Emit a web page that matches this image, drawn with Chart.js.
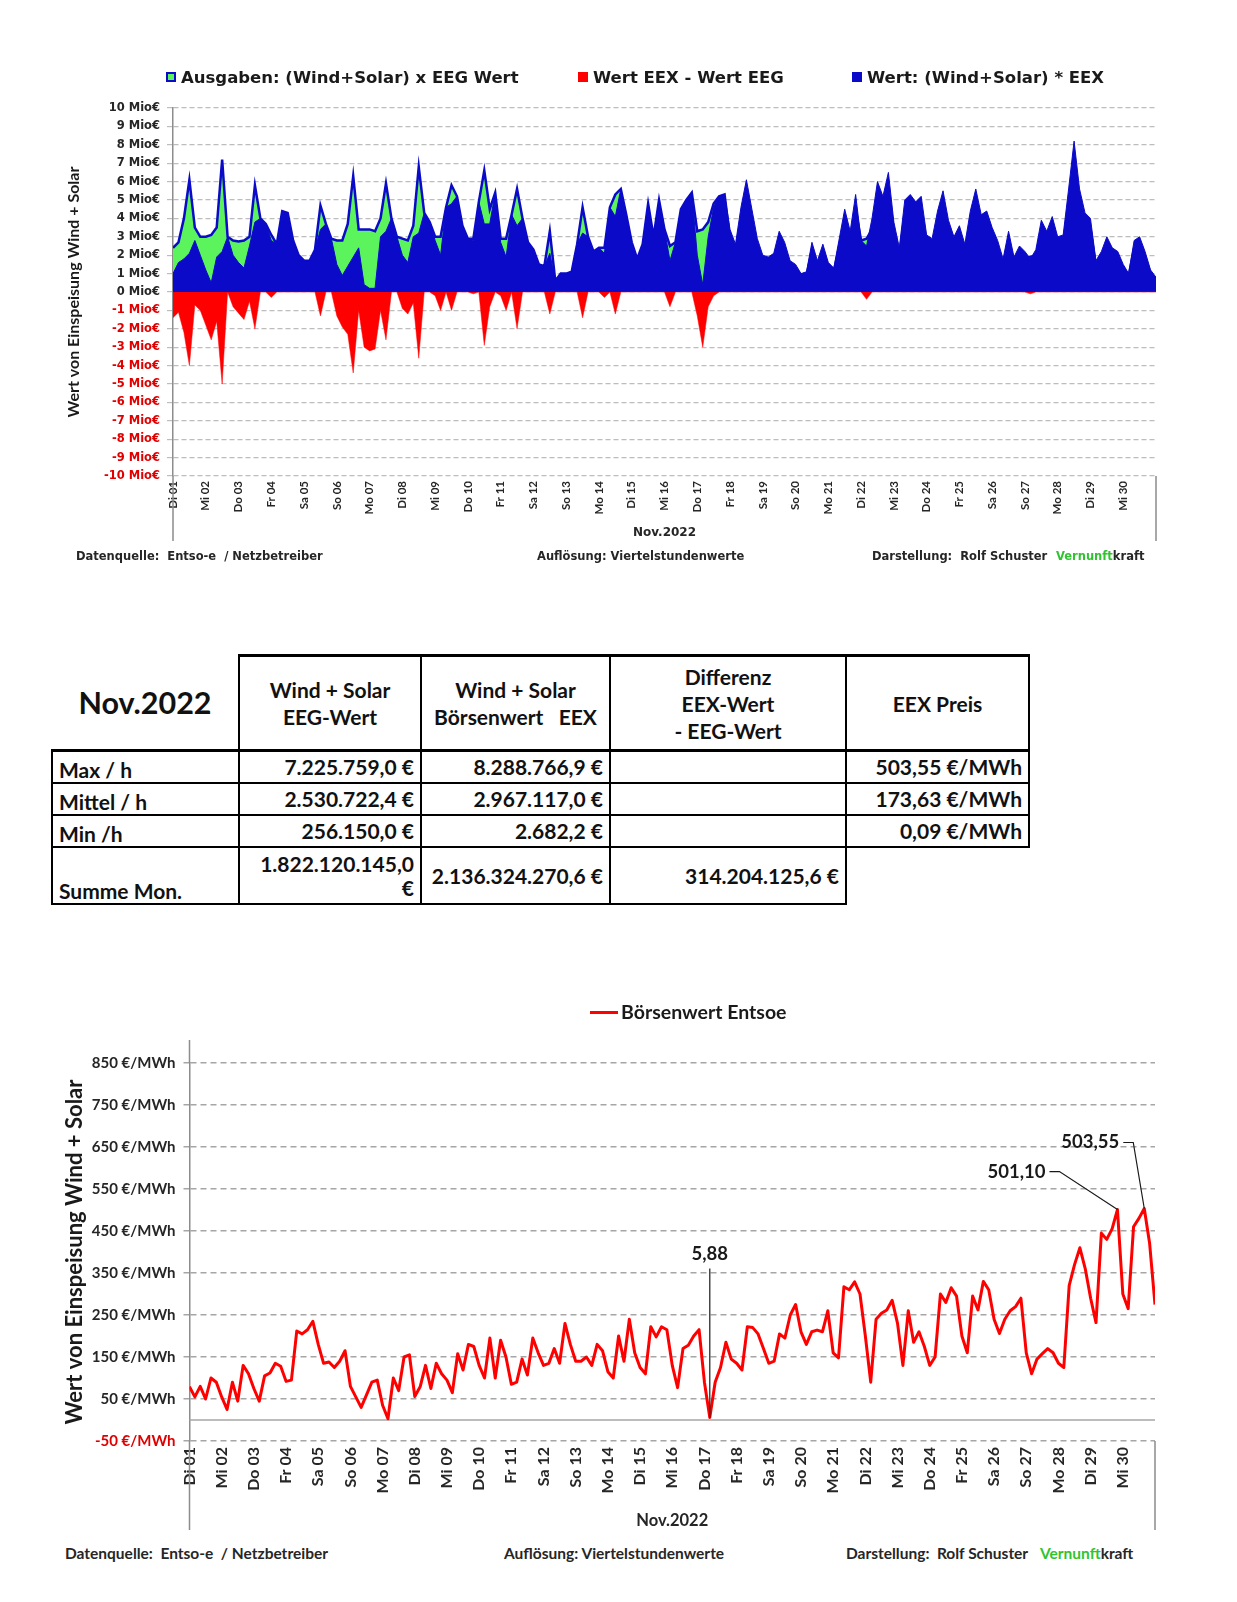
<!DOCTYPE html>
<html lang="de">
<head>
<meta charset="UTF-8">
<title>Wind + Solar Nov.2022</title>
<script src="https://cdn.jsdelivr.net/npm/chart.js"></script>
<style type="text/css">
    body { margin: 0; background: #fff; }
    .page { position: relative; width: 1237px; height: 1602px; overflow: hidden; }
    .chartbox { position: absolute; }
    .leg {
        position: absolute; z-index: 2; height: 20px;
        display: flex; align-items: center;
        font: bold 16.5px "DejaVu Sans"; color: #1a1a1a; white-space: pre;
    }
    .sw { display: inline-block; width: 10px; height: 10px; margin-right: 5px; box-sizing: border-box; }
    .foot1 { position: absolute; z-index: 2; font: bold 11.5px "DejaVu Sans"; color: #262626; white-space: pre; line-height: 14px; }
    .foot2 { position: absolute; z-index: 2; font: bold 15.5px Lato; color: #262626; white-space: pre; line-height: 18px; }
    .green { color: #2fc42f; }

    table.stats {
        position: absolute; left: 51px; top: 654px;
        border-collapse: collapse; table-layout: fixed; width: 977px;
        font-family: Lato; font-weight: bold; color: #111;
    }
    table.stats th, table.stats td { border: 2px solid #000; padding: 0 6px; }
    table.stats th { height: 92px; font-size: 21px; line-height: 27px; text-align: center; border-top-width: 3px; border-bottom-width: 3px; }
    table.stats th.corner { border-top: none; border-left: none; font-size: 30.5px; }
    table.stats td { height: 30px; font-size: 21px; text-align: right; vertical-align: middle; line-height: 24px; }
    table.stats td.lab { text-align: left; vertical-align: bottom; }
    table.stats tr.sum td { height: 55px; }
    table.stats td.none { border: none; }
</style>
</head>

<body>
<div class="page">
    <!-- top chart legend -->
    <div class="leg" style="left:166px;top:67px;"><span class="sw" style="background:#5cf45c;border:2px solid #0a0ac8;"></span>Ausgaben: (Wind+Solar) x EEG Wert</div>
    <div class="leg" style="left:578px;top:67px;"><span class="sw" style="background:#ff0000;"></span>Wert EEX - Wert EEG</div>
    <div class="leg" style="left:852px;top:67px;"><span class="sw" style="background:#0a0ac8;"></span>Wert: (Wind+Solar) * EEX</div>

    <div class="chartbox" style="left:0;top:0;width:1237px;height:556px;"><canvas id="topChart"></canvas></div>

    <div class="foot1" style="left:76px;top:549px;">Datenquelle:  Entso-e  / Netzbetreiber</div>
    <div class="foot1" style="left:537px;top:549px;">Auflösung: Viertelstundenwerte</div>
    <div class="foot1" style="left:872px;top:549px;">Darstellung:  Rolf Schuster</div>
    <div class="foot1" style="left:1056px;top:549px;"><span class="green">Vernunft</span>kraft</div>

    <table class="stats">
        <colgroup><col style="width:187px"><col style="width:182px"><col style="width:189px"><col style="width:236px"><col style="width:183px"></colgroup>
        <tr>
            <th class="corner">Nov.2022</th>
            <th>Wind + Solar<br>EEG-Wert</th>
            <th>Wind + Solar<br>Börsenwert&nbsp;&nbsp; EEX</th>
            <th>Differenz<br>EEX-Wert<br>- EEG-Wert</th>
            <th>EEX Preis</th>
        </tr>
        <tr><td class="lab">Max / h</td><td>7.225.759,0 €</td><td>8.288.766,9 €</td><td></td><td>503,55 €/MWh</td></tr>
        <tr><td class="lab">Mittel / h</td><td>2.530.722,4 €</td><td>2.967.117,0 €</td><td></td><td>173,63 €/MWh</td></tr>
        <tr><td class="lab">Min /h</td><td>256.150,0 €</td><td>2.682,2 €</td><td></td><td>0,09 €/MWh</td></tr>
        <tr class="sum"><td class="lab">Summe Mon.</td><td>1.822.120.145,0<br>€</td><td>2.136.324.270,6 €</td><td>314.204.125,6 €</td><td class="none"></td></tr>
    </table>

    <!-- bottom chart legend -->
    <div style="position:absolute;left:590px;top:1011px;width:28px;height:3px;background:#ff0000;z-index:2"></div>
    <div style="position:absolute;left:621px;top:1000px;font:bold 19.5px Lato;line-height:24px;color:#1a1a1a;z-index:2">Börsenwert Entsoe</div>

    <div class="chartbox" style="left:0;top:1000px;width:1237px;height:540px;"><canvas id="bottomChart"></canvas></div>

    <div class="foot2" style="left:65px;top:1544px;">Datenquelle:  Entso-e  / Netzbetreiber</div>
    <div class="foot2" style="left:504px;top:1544px;">Auflösung: Viertelstundenwerte</div>
    <div class="foot2" style="left:846px;top:1544px;">Darstellung:  Rolf Schuster</div>
    <div class="foot2" style="left:1040px;top:1544px;"><span class="green">Vernunft</span>kraft</div>
</div>

<script>
    // x axis: one tick per day, values every 4 hours (6 per day), last value = end of month
    const dayLabels = ['Di 01', 'Mi 02', 'Do 03', 'Fr 04', 'Sa 05', 'So 06', 'Mo 07', 'Di 08', 'Mi 09', 'Do 10',
        'Fr 11', 'Sa 12', 'So 13', 'Mo 14', 'Di 15', 'Mi 16', 'Do 17', 'Fr 18', 'Sa 19', 'So 20',
        'Mo 21', 'Di 22', 'Mi 23', 'Do 24', 'Fr 25', 'Sa 26', 'So 27', 'Mo 28', 'Di 29', 'Mi 30'];
    const stepsPerDay = 6;

    const mioTicks = [-10, -9, -8, -7, -6, -5, -4, -3, -2, -1, 0, 1, 2, 3, 4, 5, 6, 7, 8, 9, 10];
    const preisTicks = [-50, 50, 150, 250, 350, 450, 550, 650, 750, 850];

    // (Wind+Solar) x EEG Wert, Mio €
    const eegWert = [
        2.4, 2.7, 4.0, 6.1, 3.5, 3.0,
        3.0, 3.1, 3.5, 7.2, 3.0, 2.8,
        2.75, 2.8, 3.0, 5.8, 4.0, 3.7,
        3.1, 2.6, 4.4, 4.3, 2.8, 2.0,
        1.7, 1.7, 2.3, 4.7, 3.7, 2.9,
        2.8, 2.8, 3.7, 6.3, 3.4, 3.4,
        3.4, 3.3, 4.0, 5.9, 4.0, 3.0,
        2.9, 2.8, 3.6, 6.8, 4.3, 3.8,
        3.0, 3.0, 4.6, 5.8, 5.2, 3.6,
        2.9, 2.9, 4.9, 6.6, 4.5, 5.4,
        2.9, 2.9, 4.2, 5.6, 4.0, 2.7,
        2.3, 1.5, 1.4, 3.3, 0.6, 1.0,
        1.0, 1.1, 2.6, 4.6, 3.0, 2.2,
        2.4, 2.4, 4.6, 5.3, 5.6, 4.2,
        2.7, 1.8, 2.6, 4.8, 3.0, 5.0,
        3.4, 2.5, 2.7, 4.5, 5.0, 5.4,
        3.3, 3.4, 3.8, 4.8, 5.2, 5.3,
        2.9, 2.2, 3.9, 5.2, 3.8, 2.5,
        1.7, 1.6, 1.8, 2.8, 2.3, 1.4,
        1.3, 0.9, 0.9, 2.3, 1.4, 2.2,
        1.4, 1.1, 2.5, 3.8, 2.8, 4.5,
        2.8, 2.9, 3.4, 5.1, 4.4, 5.5,
        3.2, 2.0, 4.2, 4.5, 4.2, 4.4,
        2.6, 2.5, 3.7, 4.7, 3.3, 2.6,
        3.1, 2.2, 3.7, 4.8, 3.6, 3.7,
        3.0, 2.4, 1.5, 2.8, 1.6, 2.1,
        1.9, 1.9, 2.0, 3.3, 2.8, 3.5,
        2.6, 2.6, 4.8, 7.0, 4.8, 3.7,
        3.4, 1.4, 1.9, 2.6, 2.0, 1.9,
        1.3, 0.9, 2.4, 2.6, 1.9, 1.0,
        0.7
    ];

    // (Wind+Solar) * EEX, Mio €
    const eexWert = [
        1.0, 1.6, 1.8, 2.1, 2.8, 2.0,
        1.2, 0.5, 1.9, 2.2, 3.0, 2.0,
        1.6, 1.3, 2.5, 3.8, 4.0, 3.7,
        2.8, 2.6, 4.4, 4.3, 2.8, 2.0,
        1.7, 1.7, 2.3, 3.4, 3.7, 2.9,
        1.5, 0.9, 1.4, 1.9, 2.4, 0.4,
        0.2, 0.2, 3.0, 3.3, 4.0, 3.0,
        2.0, 1.6, 3.0, 3.2, 4.3, 3.8,
        2.8, 2.0, 4.6, 4.8, 5.2, 3.6,
        2.9, 2.8, 4.9, 3.7, 3.7, 5.4,
        2.7, 1.9, 4.2, 3.6, 4.0, 2.7,
        2.3, 1.5, 1.4, 2.1, 0.6, 1.0,
        1.0, 1.1, 2.6, 3.2, 3.0, 2.2,
        2.4, 2.1, 4.6, 4.1, 5.6, 4.2,
        2.7, 1.8, 2.6, 4.8, 3.0, 5.0,
        3.4, 1.7, 2.7, 4.5, 5.0, 5.4,
        2.0, 0.4, 3.0, 4.6, 5.2, 5.3,
        3.4, 2.6, 4.6, 6.1, 4.5, 2.9,
        2.0, 1.9, 2.1, 3.3, 2.7, 1.7,
        1.5, 1.0, 1.1, 2.7, 1.7, 2.6,
        1.6, 1.3, 2.9, 4.5, 3.3, 5.3,
        2.8, 2.5, 4.0, 6.0, 5.2, 6.5,
        3.8, 2.4, 5.0, 5.3, 4.9, 5.2,
        3.1, 2.9, 4.4, 5.5, 3.9, 3.0,
        3.6, 2.6, 4.4, 5.6, 4.2, 4.4,
        3.5, 2.8, 1.8, 3.3, 1.9, 2.5,
        2.2, 1.8, 2.3, 3.9, 3.3, 4.1,
        3.0, 3.1, 5.6, 8.2, 5.6, 4.3,
        4.0, 1.7, 2.2, 3.0, 2.4, 2.2,
        1.5, 1.0, 2.8, 3.0, 2.2, 1.2,
        0.8
    ];

    // Wert EEX - Wert EEG (only the negative part is shown), Mio €
    const diffWert = [
        -1.4, -1.1, -2.2, -4.0, -0.7, -1.0,
        -1.8, -2.6, -1.6, -5.0, 0, -0.8,
        -1.15, -1.5, -0.5, -2.0, 0, 0,
        -0.3, 0, 0, 0, 0, 0,
        0, 0, 0, -1.3, 0, 0,
        -1.3, -1.9, -2.3, -4.4, -1.0, -3.0,
        -3.2, -3.1, -1.0, -2.6, 0, 0,
        -0.9, -1.2, -0.6, -3.6, 0, 0,
        -0.2, -1.0, 0, -1.0, 0, 0,
        0, -0.1, 0, -2.9, -0.8, 0,
        -0.2, -1.0, 0, -2.0, 0, 0,
        0, 0, 0, -1.2, 0, 0,
        0, 0, 0, -1.4, 0, 0,
        0, -0.3, 0, -1.2, 0, 0,
        0, 0, 0, 0, 0, 0,
        0, -0.8, 0, 0, 0, 0,
        -1.3, -3.0, -0.8, -0.2, 0, 0,
        0, 0, 0, 0, 0, 0,
        0, 0, 0, 0, 0, 0,
        0, 0, 0, 0, 0, 0,
        0, 0, 0, 0, 0, 0,
        0, -0.4, 0, 0, 0, 0,
        0, 0, 0, 0, 0, 0,
        0, 0, 0, 0, 0, 0,
        0, 0, 0, 0, 0, 0,
        0, 0, 0, 0, 0, 0,
        0, -0.1, 0, 0, 0, 0,
        0, 0, 0, 0, 0, 0,
        0, 0, 0, 0, 0, 0,
        0, 0, 0, 0, 0, 0,
        0
    ];

    // Börsenwert Entsoe, €/MWh
    const boersenPreis = [
        79, 55, 80, 50, 100, 90,
        55, 25, 90, 45, 130, 110,
        75, 45, 105, 112, 135, 128,
        92, 95, 212, 205, 215, 235,
        180, 135, 138, 125, 140, 165,
        80, 55, 30, 60, 90, 95,
        35, 3, 100, 70, 150, 155,
        56, 79, 130, 75, 135, 110,
        95, 65, 158, 119, 180, 175,
        130, 100, 195, 100, 190, 150,
        85, 90, 145, 107, 195, 160,
        130, 135, 170, 135, 230, 180,
        140, 140, 150, 130, 180, 165,
        115, 100, 200, 140, 240, 160,
        125, 110, 222, 198, 222, 215,
        130, 77, 170, 178, 200, 215,
        90, 5.88, 90, 125, 185, 145,
        135, 119, 222, 220, 205, 170,
        135, 140, 205, 195, 250, 275,
        210, 180, 210, 214, 210, 260,
        160, 148, 317, 310, 329, 300,
        200, 90, 240, 254, 262, 285,
        230, 130, 260, 185, 210, 175,
        130, 150, 300, 280, 315, 295,
        200, 160, 295, 262, 330, 310,
        240, 206, 240, 260, 270, 290,
        160, 110, 145, 158, 170, 160,
        135, 125, 320, 370, 410, 360,
        290, 232, 445, 430, 455, 501.1,
        300, 265, 460, 480, 503.55, 420,
        275
    ];

    // labelled points of the price line (index into boersenPreis)
    const callouts = [
        { index: 97, text: '5,88' },
        { index: 173, text: '501,10' },
        { index: 178, text: '503,55' }
    ];
    // where each label sits relative to its point, px
    const calloutOffsets = [
        { dx: 0, dy: -163, vertical: true },
        { dx: -68, dy: -38 },
        { dx: -21, dy: -66 }
    ];

    const hours = boersenPreis.map((_, i) => i / stepsPerDay);
    function pts(values) {
        return values.map((v, i) => ({ x: hours[i], y: v }));
    }

    const RED = '#ff0000';
    const BLUE = '#0a0ac8';
    const GREEN = '#5cf45c';

    // draws the axis lines a bit past the plot area, like the original
    const axisExtend = {
        id: 'axisExtend',
        afterDraw(chart, args, opts) {
            const { ctx, chartArea } = chart;
            ctx.save();
            ctx.strokeStyle = '#8c8c8c';
            ctx.lineWidth = 1.5;
            ctx.beginPath();
            ctx.moveTo(chartArea.left, chartArea.top - opts.up);
            ctx.lineTo(chartArea.left, chartArea.top);
            ctx.moveTo(chartArea.left, chartArea.bottom);
            ctx.lineTo(chartArea.left, chartArea.bottom + opts.down);
            ctx.moveTo(chartArea.right, chartArea.bottom);
            ctx.lineTo(chartArea.right, chartArea.bottom + opts.down);
            ctx.stroke();
            ctx.restore();
        }
    };

    const zeroLine = {
        id: 'zeroLine',
        beforeDatasetsDraw(chart) {
            const { ctx, chartArea, scales: { y } } = chart;
            const y0 = y.getPixelForValue(0);
            ctx.save();
            ctx.strokeStyle = '#a6a6a6';
            ctx.lineWidth = 1.5;
            ctx.beginPath();
            ctx.moveTo(chartArea.left, y0);
            ctx.lineTo(chartArea.right, y0);
            ctx.stroke();
            ctx.restore();
        }
    };

    const calloutPlugin = {
        id: 'callouts',
        afterDatasetsDraw(chart) {
            const { ctx, scales: { x, y } } = chart;
            ctx.save();
            ctx.font = 'bold 18.5px Lato';
            ctx.fillStyle = '#1a1a1a';
            ctx.strokeStyle = '#1a1a1a';
            ctx.lineWidth = 1.2;
            callouts.forEach((c, k) => {
                const px = x.getPixelForValue(hours[c.index]);
                const py = y.getPixelForValue(boersenPreis[c.index]);
                const o = calloutOffsets[k];
                ctx.beginPath();
                if (o.vertical) {
                    ctx.moveTo(px, py);
                    ctx.lineTo(px, py + o.dy + 14);
                    ctx.textAlign = 'center';
                    ctx.textBaseline = 'middle';
                    ctx.fillText(c.text, px, py + o.dy);
                } else {
                    const ex = px + o.dx, ey = py + o.dy;
                    ctx.moveTo(px, py);
                    ctx.lineTo(ex + 10, ey);
                    ctx.lineTo(ex, ey);
                    ctx.textAlign = 'right';
                    ctx.textBaseline = 'middle';
                    ctx.fillText(c.text, ex - 4, ey);
                }
                ctx.stroke();
            });
            ctx.restore();
        }
    };

    function dayAxis(fontSize, height, titleFont, titlePad, tickPad) {
        return {
            type: 'linear',
            min: 0,
            max: dayLabels.length,
            afterBuildTicks: s => { s.ticks = dayLabels.map((_, i) => ({ value: i })); },
            afterFit: s => { s.height = height; },
            grid: { display: false, drawTicks: false },
            border: { display: false },
            ticks: {
                autoSkip: false, minRotation: 90, maxRotation: 90, padding: tickPad,
                font: { family: 'Lato', weight: 'bold', size: fontSize },
                color: '#262626',
                callback: v => dayLabels[v]
            },
            title: {
                display: true, text: 'Nov.2022', color: '#262626',
                font: titleFont, padding: { top: 0, bottom: titlePad }
            }
        };
    }

    // top chart: values of wind + solar feed-in
    new Chart(document.getElementById('topChart'), {
        type: 'line',
        data: {
            datasets: [
                {
                    label: 'Ausgaben: (Wind+Solar) x EEG Wert',
                    data: pts(eegWert),
                    backgroundColor: GREEN, borderColor: BLUE, borderWidth: 2.5,
                    fill: 'origin', pointRadius: 0, order: 3
                },
                {
                    label: 'Wert EEX - Wert EEG',
                    data: pts(diffWert),
                    backgroundColor: RED, borderColor: RED, borderWidth: 0.5,
                    fill: 'origin', pointRadius: 0, order: 1
                },
                {
                    label: 'Wert: (Wind+Solar) * EEX',
                    data: pts(eexWert),
                    backgroundColor: BLUE, borderColor: BLUE, borderWidth: 1,
                    fill: 'origin', pointRadius: 0, order: 2
                }
            ]
        },
        options: {
            responsive: true,
            maintainAspectRatio: false,
            animation: false,
            layout: { padding: { left: 60, right: 81, top: 108, bottom: 0 } },
            elements: { line: { tension: 0 } },
            plugins: {
                legend: { display: false },
                tooltip: { enabled: false },
                axisExtend: { up: 0, down: 65 }
            },
            scales: {
                x: dayAxis(11.5, 80, { family: 'DejaVu Sans', weight: 'bold', size: 12 }, 16, 5),
                y: {
                    min: -10,
                    max: 10,
                    afterBuildTicks: s => { s.ticks = mioTicks.map(v => ({ value: v })); },
                    afterFit: s => { s.width = 113; },
                    grid: { color: '#bdbdbd', lineWidth: 1.2, tickLength: 6 },
                    border: { display: true, color: '#8c8c8c', width: 1.5, dash: [5, 3] },
                    ticks: {
                        padding: 7,
                        font: { family: 'DejaVu Sans', weight: 'bold', size: 11.5 },
                        color: c => c.tick.value < 0 ? '#e00000' : '#262626',
                        callback: v => v + ' Mio€'
                    },
                    title: {
                        display: true, text: 'Wert von Einspeisung Wind + Solar', color: '#1a1a1a',
                        font: { family: 'Lato', weight: 'bold', size: 16 }, padding: { top: 4, bottom: 0 }
                    }
                }
            }
        },
        plugins: [axisExtend]
    });

    // bottom chart: exchange price
    new Chart(document.getElementById('bottomChart'), {
        type: 'line',
        data: {
            datasets: [{
                label: 'Börsenwert Entsoe',
                data: pts(boersenPreis),
                borderColor: RED, borderWidth: 3, borderJoinStyle: 'round',
                pointRadius: 0, fill: false
            }]
        },
        options: {
            responsive: true,
            maintainAspectRatio: false,
            animation: false,
            layout: { padding: { left: 58, right: 82, top: 63, bottom: 0 } },
            elements: { line: { tension: 0 } },
            plugins: {
                legend: { display: false },
                tooltip: { enabled: false },
                axisExtend: { up: 23, down: 89 }
            },
            scales: {
                x: dayAxis(16, 99, { family: 'Lato', weight: 'bold', size: 16.5 }, 9, 6),
                y: {
                    min: -50,
                    max: 850,
                    afterBuildTicks: s => { s.ticks = preisTicks.map(v => ({ value: v })); },
                    afterFit: s => { s.width = 131.5; },
                    grid: { color: '#a6a6a6', lineWidth: 1.5, tickLength: 6 },
                    border: { display: true, color: '#8c8c8c', width: 1.5, dash: [6, 4] },
                    ticks: {
                        padding: 8,
                        font: { family: 'Lato', weight: 'bold', size: 15 },
                        color: c => c.tick.value < 0 ? '#e00000' : '#262626',
                        callback: v => v + ' €/MWh'
                    },
                    title: {
                        display: true, text: 'Wert von Einspeisung Wind + Solar', color: '#1a1a1a',
                        font: { family: 'Lato', weight: 'bold', size: 22 }, padding: { top: 4, bottom: 0 }
                    }
                }
            }
        },
        plugins: [axisExtend, zeroLine, calloutPlugin]
    });
</script>
</body>
</html>
